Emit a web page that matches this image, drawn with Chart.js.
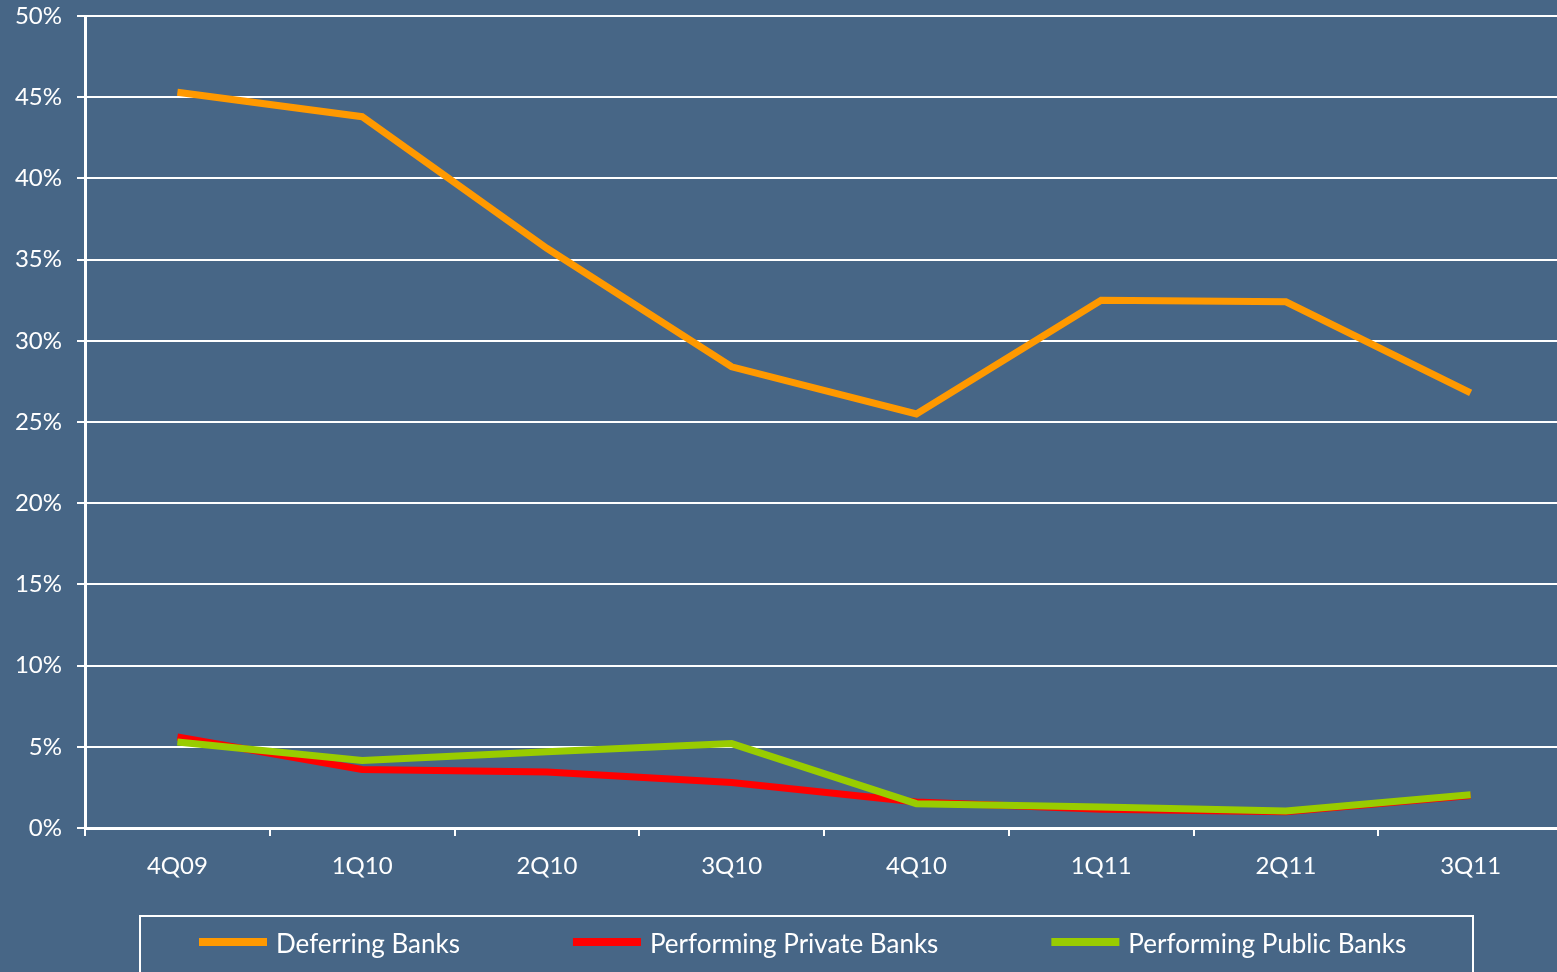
<!DOCTYPE html>
<html>
<head>
<meta charset="utf-8">
<script src="https://cdn.jsdelivr.net/npm/chart.js@4"></script>
<style>
  html, body { margin: 0; padding: 0; background: #476686; overflow: hidden; }
  #grafico { display: block; }
</style>
</head>
<body>
<canvas id="grafico" width="1563" height="972"></canvas>
<script>
const trimestres = ['4Q09', '1Q10', '2Q10', '3Q10', '4Q10', '1Q11', '2Q11', '3Q11'];
const deferringBanks = [45.3, 43.8, 35.7, 28.4, 25.5, 32.5, 32.4, 26.8];
const privateBanks = [5.6, 3.6, 3.45, 2.8, 1.6, 1.15, 1.0, 2.0];
const publicBanks = [5.3, 4.15, 4.7, 5.2, 1.5, 1.3, 1.05, 2.05];
const ticksY = [0, 5, 10, 15, 20, 25, 30, 35, 40, 45, 50];

const blanco = '#ffffff';
const fuente = 'Lato, "Open Sans", sans-serif';

// leyenda propia dentro de un recuadro blanco, debajo de las etiquetas del eje X
const leyendaRecuadro = {
    id: 'leyendaRecuadro',
    afterDraw(chart) {
        const ctx = chart.ctx;
        ctx.save();
        ctx.strokeStyle = blanco;
        ctx.lineWidth = 2;
        ctx.strokeRect(140, 916, 1333, 80);

        ctx.font = '26px ' + fuente;
        ctx.textBaseline = 'middle';
        let x = 199;
        const y = 942;
        chart.data.datasets.forEach(ds => {
            ctx.fillStyle = ds.borderColor;
            ctx.fillRect(x, y - 4, 68, 8);
            x += 77;
            ctx.fillStyle = blanco;
            ctx.fillText(ds.label, x, y + 3);
            x += ctx.measureText(ds.label).width + 113;
        });
        ctx.restore();
    }
};

new Chart(document.getElementById('grafico'), {
    type: 'line',
    data: {
        labels: trimestres,
        datasets: [
            { label: 'Deferring Banks', data: deferringBanks, borderColor: '#ff9900', order: 0 },
            { label: 'Performing Private Banks', data: privateBanks, borderColor: '#ff0000', order: 2 },
            { label: 'Performing Public Banks', data: publicBanks, borderColor: '#99cc00', order: 1 }
        ]
    },
    options: {
        responsive: false,
        animation: false,
        layout: { padding: { top: 16, right: 0, bottom: 0, left: 0 } },
        elements: {
            line: { borderWidth: 7, tension: 0, borderCapStyle: 'butt', borderJoinStyle: 'miter' },
            point: { radius: 0 }
        },
        plugins: {
            legend: { display: false },
            tooltip: { enabled: false }
        },
        scales: {
            x: {
                offset: true,
                grid: {
                    offset: true,
                    drawOnChartArea: false,
                    drawTicks: true,
                    tickLength: 8,
                    color: blanco,
                    lineWidth: 2
                },
                border: { display: true, color: blanco, width: 3 },
                ticks: { color: blanco, font: { family: fuente, size: 24 }, padding: 16, maxRotation: 0 },
                afterFit(scale) { scale.height = 144; }
            },
            y: {
                min: 0,
                max: 50,
                afterBuildTicks(scale) { scale.ticks = ticksY.map(v => ({ value: v })); },
                grid: { color: blanco, lineWidth: 2, tickLength: 8, drawTicks: true },
                border: { display: true, color: blanco, width: 3 },
                ticks: {
                    color: blanco,
                    font: { family: fuente, size: 24 },
                    padding: 15,
                    callback: v => v + '%'
                },
                afterFit(scale) {
                    scale.width = 85;
                    scale.paddingTop = 0;
                    scale.paddingBottom = 0;
                }
            }
        }
    },
    plugins: [leyendaRecuadro]
});
</script>
</body>
</html>
